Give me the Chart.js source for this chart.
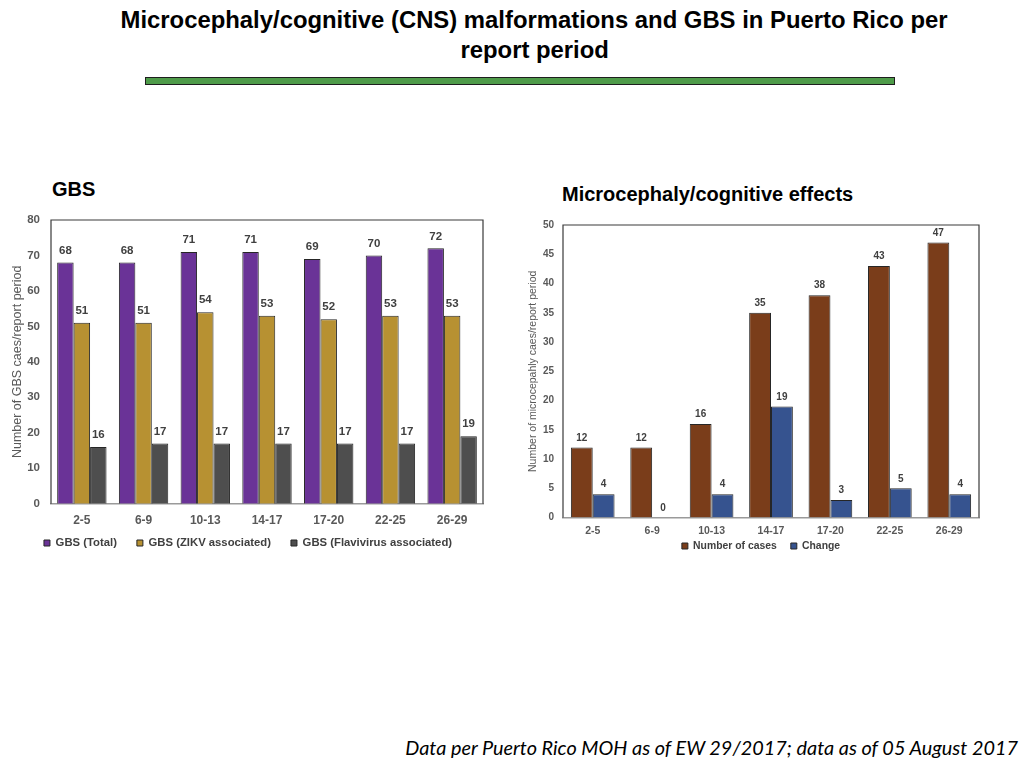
<!DOCTYPE html>
<html>
<head>
<meta charset="utf-8">
<script src="https://cdn.jsdelivr.net/npm/chart.js@4"></script>
<style>
  html, body { margin: 0; padding: 0; background: #fff; }
  body { width: 1024px; height: 768px; position: relative; overflow: hidden; font-family: "Liberation Sans", Arial, sans-serif; }
  .abs { position: absolute; }
  .tline { left: 0; width: 1069px; text-align: center; font-weight: bold; font-size: 24px; line-height: 30px; color: #000; white-space: nowrap; }
  .tline span { display: inline-block; }
  #bar { left: 145px; top: 77px; width: 748px; height: 6px; background: #4e9b49; border: 1.5px solid #1e1e1e; }
  .sub { font-weight: bold; font-size: 20px; color: #000; white-space: nowrap; }
  #footer { top: 735px; font-style: italic; font-family: Lato, "Open Sans", sans-serif; font-size: 18px; color: #000; white-space: nowrap; }
  .box { position: absolute; width: 500px; }
</style>
</head>
<body>
<div class="abs tline" style="top:5px;"><span id="t1">Microcephaly/cognitive (CNS) malformations and GBS in Puerto Rico per</span></div>
<div class="abs tline" style="top:35px;"><span id="t2">report period</span></div>
<div id="bar" class="abs"></div>
<div class="abs sub" style="left:52px; top:178px;">GBS</div>
<div class="abs sub" style="left:562px; top:183px;">Microcephaly/cognitive effects</div>
<div class="box" style="left:0px; top:200px; height:375px;"><canvas id="c1"></canvas></div>
<div class="box" style="left:515px; top:200px; height:380px;"><canvas id="c2"></canvas></div>
<div id="footer" class="abs">Data per Puerto Rico MOH as of EW 29/2017; data as of 05 August 2017</div>
<script>
// ---- Data ----
const periods = ["2-5", "6-9", "10-13", "14-17", "17-20", "22-25", "26-29"];
const gbsTotal = [68, 68, 71, 71, 69, 70, 72];
const gbsZikv = [51, 51, 54, 53, 52, 53, 53];
const gbsFlavi = [16, 17, 17, 17, 17, 17, 19];
const microCases = [12, 12, 16, 35, 38, 43, 47];
const microChange = [4, 0, 4, 19, 3, 5, 4];
const gbsTicksMax = 80;
const microTicksMax = 50;

// ---- fit text widths ----
function fitWidth(el, target) {
  const w = el.getBoundingClientRect().width;
  const fs = parseFloat(getComputedStyle(el).fontSize);
  el.style.fontSize = (fs * target / w) + 'px';
}
const footer = document.getElementById('footer');
fitWidth(footer, 613);
footer.style.left = (1018 - footer.getBoundingClientRect().width) + 'px';
const t1 = document.getElementById('t1');
const t1w = t1.getBoundingClientRect().width;
const t1s = 827 / t1w;
t1.style.transform = 'scaleX(' + t1s + ')';
document.getElementById('t2').style.transform = 'scaleX(' + t1s + ')';

const FONT = "'Liberation Sans', Arial, sans-serif";

const boxPlugin = {
  id: 'plotBox',
  beforeDatasetsDraw(chart) {
    const {ctx, chartArea: a} = chart;
    ctx.save();
    ctx.strokeStyle = '#3a3a3a';
    ctx.lineWidth = 1.2;
    ctx.beginPath();
    ctx.moveTo(a.left, a.bottom);
    ctx.lineTo(a.left, a.top);
    ctx.lineTo(a.right, a.top);
    ctx.lineTo(a.right, a.bottom);
    ctx.stroke();
    ctx.restore();
  }
};

const labelPlugin = {
  id: 'valueLabels',
  afterDatasetsDraw(chart, args, opts) {
    const {ctx} = chart;
    ctx.save();
    ctx.font = 'bold ' + opts.size + 'px ' + FONT;
    ctx.fillStyle = '#404040';
    ctx.textAlign = 'center';
    ctx.textBaseline = 'middle';
    chart.data.datasets.forEach((ds, i) => {
      const meta = chart.getDatasetMeta(i);
      meta.data.forEach((bar, j) => {
        ctx.fillText(String(ds.data[j]), bar.x, bar.y - opts.gap);
      });
    });
    ctx.restore();
  }
};

const legendPlugin = {
  id: 'legendPlace',
  afterLayout(chart, args, opts) {
    const L = chart.legend;
    if (!L) return;
    const pad = L.options.labels.padding;
    const fs = L.options.labels.font.size;
    const h = L.bottom - L.top;
    const dx = opts.cx - (L.left + L.right) / 2;
    L.left += dx; L.right += dx;
    L.top = opts.cy - pad - fs / 2;
    L.bottom = L.top + h;
  }
};

function makeChart(id, cfg) {
  return new Chart(document.getElementById(id), {
    type: 'bar',
    data: { labels: periods, datasets: cfg.datasets },
    plugins: [boxPlugin, labelPlugin, legendPlugin],
    options: {
      responsive: true,
      maintainAspectRatio: false,
      animation: false,
      layout: { padding: cfg.padding },
      datasets: { bar: { barPercentage: 1, categoryPercentage: cfg.catPct, borderWidth: 1, borderColor: '#262626', borderSkipped: 'bottom' } },
      scales: {
        x: {
          grid: { display: false, drawTicks: false },
          border: { display: true, color: '#9a9a9a', width: 1.5 },
          ticks: { color: '#595959', font: { family: FONT, size: cfg.xSize, weight: 'bold' }, padding: cfg.xPad, maxRotation: 0, autoSkip: false },
          afterFit(s) { s.height = cfg.xHeight; }
        },
        y: {
          min: 0, max: cfg.yMax,
          grid: { display: false, drawTicks: false },
          border: { display: false },
          ticks: { stepSize: cfg.yStep, color: '#595959', font: { family: FONT, size: cfg.ySize, weight: 'bold' }, padding: cfg.yPad },
          title: { display: true, text: cfg.yTitle, color: '#595959', font: { family: FONT, size: cfg.yTitleSize }, padding: { top: cfg.yTitlePad, bottom: 0 } },
          afterFit(s) { s.width = cfg.yWidth; }
        }
      },
      plugins: {
        legend: {
          position: 'bottom',
          labels: { boxWidth: 6, boxHeight: 6, padding: cfg.legPad, color: '#404040', font: { family: FONT, size: cfg.legSize, weight: 'bold' } }
        },
        tooltip: { enabled: false },
        valueLabels: { size: cfg.labelSize, gap: cfg.labelGap },
        legendPlace: { cx: cfg.legCx, cy: cfg.legCy }
      }
    }
  });
}

makeChart('c1', {
  datasets: [
    { label: 'GBS (Total)', data: gbsTotal, backgroundColor: '#6a3397' },
    { label: 'GBS (ZIKV associated)', data: gbsZikv, backgroundColor: '#b79132' },
    { label: 'GBS (Flavivirus associated)', data: gbsFlavi, backgroundColor: '#4e4e4e' }
  ],
  padding: { top: 20, right: 17, left: 0, bottom: 0 },
  catPct: 0.80, yMax: gbsTicksMax, yStep: 10,
  yTitle: 'Number of GBS caes/report period', yTitleSize: 12.5, yTitlePad: 10,
  yWidth: 51, yPad: 11, ySize: 11.5,
  xSize: 12, xPad: 10, xHeight: 30,
  legPad: 20, legSize: 11.3, legCx: 248, legCy: 343,
  labelSize: 11.5, labelGap: 12
});

makeChart('c2', {
  datasets: [
    { label: 'Number of cases', data: microCases, backgroundColor: '#7a3d1a' },
    { label: 'Change', data: microChange, backgroundColor: '#36538f' }
  ],
  padding: { top: 25, right: 36, left: 0, bottom: 0 },
  catPct: 0.735, yMax: microTicksMax, yStep: 5,
  yTitle: 'Number of microcepahly caes/report period', yTitleSize: 10.5, yTitlePad: 12,
  yWidth: 48, yPad: 9, ySize: 10,
  xSize: 10.5, xPad: 7, xHeight: 28,
  legPad: 14, legSize: 10.4, legCx: 246, legCy: 346,
  labelSize: 10, labelGap: 9.5
});
</script>
</body>
</html>
